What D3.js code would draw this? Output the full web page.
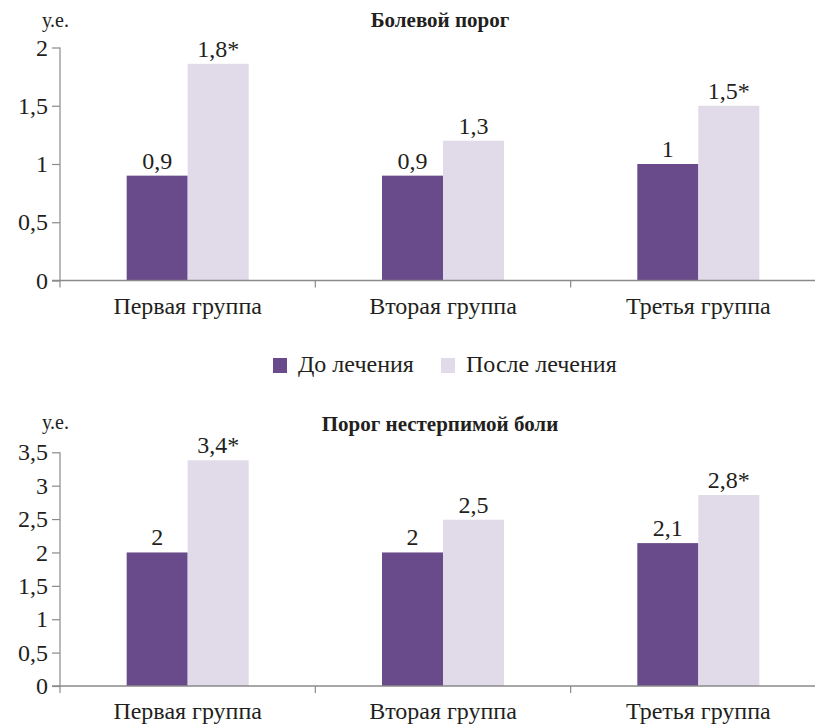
<!DOCTYPE html>
<html>
<head>
<meta charset="utf-8">
<script src="https://cdn.jsdelivr.net/npm/d3@7"></script>
</head>
<body style="margin:0;background:#fff">
<svg id="chart" width="815" height="727"></svg>
<script>
// ---- data ----
const categories = ["Первая группа", "Вторая группа", "Третья группа"];
const seriesNames = ["До лечения", "После лечения"];
const unitLabel = "у.е.";

const titleTop = "Болевой порог";
const painBefore = [0.9, 0.9, 1.0];
const painAfter = [1.86, 1.2, 1.5];
const painBeforeLabels = ["0,9", "0,9", "1"];
const painAfterLabels = ["1,8*", "1,3", "1,5*"];
const painTicks = [0, 0.5, 1, 1.5, 2];

const titleBottom = "Порог нестерпимой боли";
const tolBefore = [2.0, 2.0, 2.14];
const tolAfter = [3.38, 2.49, 2.86];
const tolBeforeLabels = ["2", "2", "2,1"];
const tolAfterLabels = ["3,4*", "2,5", "2,8*"];
const tolTicks = [0, 0.5, 1, 1.5, 2, 2.5, 3, 3.5];

const colors = ["#694a8a", "#e0dae9"];
const axisColor = "#8a8a8a";
const textColor = "#231f20";
const FONT = "'Liberation Serif', 'Times New Roman', serif";
const fontSize = 24;

const svg = d3.select("#chart");
const fmt = d => String(d).replace(".", ",");

function txt(sel, size) {
  return sel.style("font-family", FONT).style("font-size", size + "px").attr("fill", textColor);
}

function drawPanel(opts) {
  const { top, bottom, ticks, before, after, beforeLabels, afterLabels, title, titleY, unitY, catY } = opts;
  const g = svg.append("g");
  const x = d3.scaleBand().domain(categories).range([60, 826]).padding(0);
  const barW = 61;
  const x1 = d3.scaleBand().domain([0, 1]).range([x.bandwidth() / 2 - barW, x.bandwidth() / 2 + barW]).padding(0);
  const y = d3.scaleLinear().domain([0, d3.max(ticks)]).range([bottom, top]);

  const rows = categories.map((c, i) => ({ c, vals: [before[i], after[i]], labs: [beforeLabels[i], afterLabels[i]] }));

  const grp = g.selectAll("g.cat").data(rows).join("g")
    .attr("transform", d => `translate(${x(d.c)},0)`);

  grp.selectAll("rect").data(d => d.vals.map((v, k) => ({ v, k }))).join("rect")
    .attr("x", d => x1(d.k))
    .attr("width", x1.bandwidth())
    .attr("y", d => y(d.v))
    .attr("height", d => y(0) - y(d.v))
    .attr("fill", d => colors[d.k]);

  txt(grp.selectAll("text.val").data(d => d.vals.map((v, k) => ({ v, k, lab: d.labs[k] }))).join("text")
    .attr("class", "val")
    .attr("x", d => x1(d.k) + x1.bandwidth() / 2)
    .attr("y", d => y(d.v) - 7)
    .attr("text-anchor", "middle"), fontSize)
    .text(d => d.lab);

  // y axis
  const ya = d3.axisLeft(y).tickValues(ticks).tickFormat(fmt).tickSize(8).tickPadding(4).tickSizeOuter(0);
  const yg = g.append("g").attr("transform", "translate(60,0)").call(ya);
  yg.attr("font-family", null).attr("font-size", null);
  yg.select(".domain").remove();
  yg.selectAll("line").attr("stroke", axisColor).attr("stroke-width", 1.2);
  txt(yg.selectAll("text"), fontSize);
  g.append("line").attr("x1", 60).attr("x2", 60).attr("y1", y(d3.max(ticks))).attr("y2", y(0) + 7)
    .attr("stroke", axisColor).attr("stroke-width", 1.2);

  // x axis baseline
  g.append("line").attr("x1", 52).attr("x2", 815).attr("y1", y(0)).attr("y2", y(0))
    .attr("stroke", axisColor).attr("stroke-width", 1.5);
  // category separators
  g.selectAll("line.sep").data(categories.slice(1)).join("line")
    .attr("class", "sep")
    .attr("x1", d => x(d)).attr("x2", d => x(d))
    .attr("y1", y(0)).attr("y2", y(0) + 7)
    .attr("stroke", axisColor).attr("stroke-width", 1.2);
  // category labels
  txt(g.selectAll("text.cat").data(categories).join("text")
    .attr("class", "cat")
    .attr("x", d => x(d) + x.bandwidth() / 2)
    .attr("y", catY)
    .attr("text-anchor", "middle"), fontSize)
    .text(d => d);

  // title
  txt(g.append("text").attr("x", 440).attr("y", titleY).attr("text-anchor", "middle"), 21)
    .style("font-weight", "bold").text(title);
  // unit
  txt(g.append("text").attr("x", 42).attr("y", unitY), 20).text(unitLabel);
}

drawPanel({ top: 47.5, bottom: 280.5, ticks: painTicks, before: painBefore, after: painAfter,
  beforeLabels: painBeforeLabels, afterLabels: painAfterLabels, title: titleTop, titleY: 27, unitY: 27, catY: 314 });

drawPanel({ top: 452.3, bottom: 686, ticks: tolTicks, before: tolBefore, after: tolAfter,
  beforeLabels: tolBeforeLabels, afterLabels: tolAfterLabels, title: titleBottom, titleY: 431, unitY: 429, catY: 719 });

// legend
const legendX = [273, 441];
const lg = svg.append("g").selectAll("g").data(seriesNames).join("g")
  .attr("transform", (d, i) => `translate(${legendX[i]},358)`);
lg.append("rect").attr("width", 14).attr("height", 15).attr("fill", (d, i) => colors[i]);
txt(lg.append("text").attr("x", 25).attr("y", 14), fontSize).text(d => d);
</script>
</body>
</html>
